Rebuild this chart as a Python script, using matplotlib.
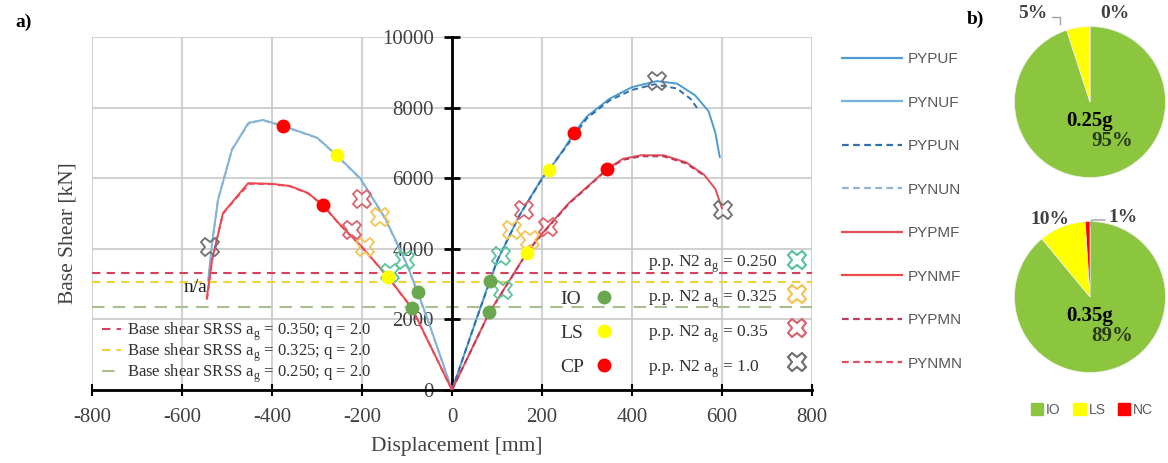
import numpy as np
import matplotlib
matplotlib.use('Agg')
import matplotlib.pyplot as plt
from matplotlib.lines import Line2D
from matplotlib.patches import Patch

plt.rcParams['axes.unicode_minus'] = False

# pushover curves (displacement in mm, base shear in kN)
pyp_uf_d = [0, 50, 84, 100, 150, 200, 216, 250, 271, 300, 350, 400, 455, 500, 540, 570, 585, 595]
pyp_uf_v = [0, 1850, 3100, 3650, 4950, 6000, 6230, 6850, 7280, 7750, 8250, 8580, 8750, 8680, 8350, 7900, 7300, 6600]
pyp_un_d = [0, 50, 100, 150, 200, 250, 300, 350, 400, 450, 500, 530, 548]
pyp_un_v = [0, 1850, 3650, 4950, 5980, 6830, 7700, 8200, 8500, 8660, 8540, 8250, 7930]
pyn_uf_d = [0, -50, -76, -100, -116, -150, -204, -256, -300, -375, -420, -453, -489, -520, -533, -542]
pyn_uf_v = [0, 1850, 2770, 3550, 4000, 4900, 6000, 6650, 7150, 7480, 7650, 7560, 6800, 5380, 4160, 3100]
pyn_un_d = [0, -50, -100, -150, -204, -256, -300, -375, -420, -450, -489, -520, -533, -540]
pyn_un_v = [0, 1840, 3540, 4880, 5980, 6640, 7140, 7470, 7640, 7580, 6820, 5400, 4200, 3300]
pyp_mf_d = [0, 83, 130, 169, 213, 260, 300, 322, 344, 380, 420, 470, 520, 560, 585, 600]
pyp_mf_v = [0, 2200, 3150, 3950, 4620, 5300, 5750, 6000, 6260, 6550, 6650, 6650, 6450, 6100, 5700, 5150]
pyp_mn_d = [0, 83, 130, 169, 213, 260, 300, 344, 380, 420, 470, 520, 560]
pyp_mn_v = [0, 2190, 3140, 3940, 4600, 5280, 5730, 6240, 6520, 6620, 6620, 6420, 6080]
pyn_mf_d = [0, -89, -142, -200, -250, -287, -320, -360, -400, -453, -480, -509, -533, -545]
pyn_mf_v = [0, 2320, 3200, 4050, 4700, 5240, 5580, 5780, 5840, 5860, 5450, 5010, 3700, 2600]
pyn_mn_d = [0, -89, -142, -200, -250, -287, -320, -360, -400, -450, -480, -509, -533, -545]
pyn_mn_v = [0, 2310, 3190, 4040, 4690, 5230, 5570, 5770, 5830, 5840, 5430, 4990, 3680, 2500]

# performance points
io_d = [84, 83, -76, -89]
io_v = [3100, 2200, 2770, 2320]
ls_d = [216, 166, -256, -142]
ls_v = [6230, 3880, 6650, 3200]
cp_d = [271, 344, -375, -287]
cp_v = [7280, 6260, 7480, 5240]

# N2 performance points
pp250_d = [-104, -138, 109, 113]
pp250_v = [3680, 3310, 3800, 2830]
pp325_d = [-160, -193, 133, 173]
pp325_v = [4900, 4050, 4530, 4250]
pp350_d = [-200, -222, 160, 213]
pp350_v = [5410, 4530, 5100, 4620]
pp100_d = [-538, 455, 602]
pp100_v = [4050, 8750, 5100]

# SRSS base shear levels
srss_labels = ['0.350', '0.325', '0.250']
srss_values = [3310, 3050, 2350]

# pie data
pie_labels = ['IO', 'LS', 'NC']
pie_025 = [95, 5, 0]
pie_035 = [89, 10, 1]

serif = 'Liberation Serif'
sans = 'Liberation Sans'
tcol = '#404040'

fig = plt.figure(figsize=(11.68, 4.63), dpi=100)
ax = fig.add_axes([92 / 1168, 1 - 390 / 463, 720 / 1168, 353 / 463])

ax.set_xlim(-800, 800)
ax.set_ylim(0, 10000)
ax.set_xticks(np.arange(-800, 801, 200))
ax.set_yticks(np.arange(0, 10001, 2000))
ax.grid(True, color='#c8c8c8', lw=1.2)
ax.set_axisbelow(True)
ax.spines['left'].set_position(('data', 0))
ax.spines['left'].set_linewidth(2)
ax.spines['bottom'].set_linewidth(2)
ax.spines['top'].set_visible(False)
ax.spines['right'].set_visible(False)
ax.tick_params(axis='y', direction='inout', length=12, width=2, pad=7)
ax.tick_params(axis='x', direction='inout', length=8, width=1.5, pad=9)
for lab in ax.get_xticklabels() + ax.get_yticklabels():
    lab.set_fontfamily(serif)
    lab.set_fontsize(15)
    lab.set_color(tcol)

ax.set_xlabel('Displacement [mm]', fontfamily=serif, fontsize=15.5, color=tcol, va='top')
ax.xaxis.set_label_coords(0.507, -0.132)
ax.set_ylabel('Base Shear [kN]', fontfamily=serif, fontsize=15.5, color=tcol, va='center')
ax.yaxis.set_label_coords(-0.033, 0.445)

# horizontal SRSS lines
srss_colors = ['#d6405c', '#f2d23c', '#a8bf90']
srss_dash = [(0, (4, 3)), (0, (4, 3)), (0, (6, 4))]
srss_handles = []
for lbl, val, c, ls in zip(srss_labels, srss_values, srss_colors, srss_dash):
    ax.axhline(val, color=c, ls=ls, lw=1.5, zorder=2)
    srss_handles.append(Line2D([], [], color=c, ls=ls, lw=1.5,
                               label=r'Base shear SRSS a$_\mathregular{g}$ = ' + lbl + '; q = 2.0'))

# curves
curve_specs = [
    ('PYPUF', pyp_uf_d, pyp_uf_v, '#4d9bd1', '-'),
    ('PYNUF', pyn_uf_d, pyn_uf_v, '#74b3e0', '-'),
    ('PYPUN', pyp_un_d, pyp_un_v, '#2f6fad', (0, (3, 2))),
    ('PYNUN', pyn_un_d, pyn_un_v, '#8fb3cf', (0, (3, 2))),
    ('PYPMF', pyp_mf_d, pyp_mf_v, '#e0505a', '-'),
    ('PYNMF', pyn_mf_d, pyn_mf_v, '#f04848', '-'),
    ('PYPMN', pyp_mn_d, pyp_mn_v, '#c03a5a', (0, (3, 2))),
    ('PYNMN', pyn_mn_d, pyn_mn_v, '#e84a62', (0, (3, 2))),
]
curve_handles = []
for name, d, v, c, ls in curve_specs:
    ax.plot(d, v, color=c, ls=ls, lw=1.4, zorder=3)
    curve_handles.append(Line2D([], [], color=c, ls=ls, lw=1.6, label=name))

# N2 crosses
pp_specs = [
    ('0.250', pp250_d, pp250_v, '#5cc49a'),
    ('0.325', pp325_d, pp325_v, '#f5c453'),
    ('0.35', pp350_d, pp350_v, '#d9646e'),
    ('1.0', pp100_d, pp100_v, '#707070'),
]
pp_handles = []
for lbl, d, v, c in pp_specs:
    ax.plot(d, v, ls='none', marker='X', ms=13, mfc='none', mec=c, mew=1.3, zorder=4)
    pp_handles.append(Line2D([], [], ls='none', marker='X', ms=13, mfc='none', mec=c, mew=1.3,
                             label=r'p.p. N2 a$_\mathregular{g}$ = ' + lbl))

# limit state points
ps_handles = []
for lbl, d, v, c in [('IO', io_d, io_v, '#6aa84f'), ('LS', ls_d, ls_v, '#ffff00'), ('CP', cp_d, cp_v, '#ff0000')]:
    ax.plot(d, v, ls='none', marker='o', ms=9, color=c, zorder=5)
    ps_handles.append(Line2D([], [], ls='none', marker='o', ms=9, color=c, label=lbl))

ax.text(-570, 2900, 'n/a', fontfamily=serif, fontsize=14, color='#202020', ha='center', va='center')

leg1 = ax.legend(handles=srss_handles, loc='upper left', bbox_to_anchor=(0.005, 0.215), frameon=False,
                 prop={'family': serif, 'size': 12}, handlelength=1.1, handletextpad=0.4,
                 labelspacing=-0.08, borderaxespad=0)
for t in leg1.get_texts():
    t.set_color('#303030')
ax.add_artist(leg1)


def text_then_marker(handles, x_text, x_mark, y, size, spacing, stub):
    # label column (left aligned) and marker column drawn as two aligned legends
    blank = [Line2D([], [], ls='none', marker='none') for _ in handles]
    labels = [h.get_label() for h in handles]
    lt = ax.legend(blank, labels, loc='upper left', bbox_to_anchor=(x_text, y), frameon=False,
                   prop={'family': serif, 'size': size}, handlelength=0, handletextpad=0,
                   labelspacing=spacing, borderaxespad=0)
    for t in lt.get_texts():
        t.set_color('#303030')
    ax.add_artist(lt)
    lm = ax.legend(handles, [stub] * len(handles), loc='upper left', bbox_to_anchor=(x_mark, y),
                   frameon=False, prop={'family': serif, 'size': size}, handlelength=1.0,
                   handletextpad=0, labelspacing=spacing, borderaxespad=0)
    for t in lm.get_texts():
        t.set_visible(False)
    ax.add_artist(lm)


text_then_marker(ps_handles, 0.64, 0.687, 0.305, 14, 0.85, 'I')
text_then_marker(pp_handles, 0.762, 0.957, 0.405, 12.5, 0.8, r'a$_\mathregular{g}$')

fig.legend(handles=curve_handles, loc='upper left', bbox_to_anchor=(836 / 1168, 1 - 46 / 463),
           frameon=False, prop={'family': sans, 'size': 11}, handlelength=3.9,
           handletextpad=0.4, labelspacing=1.93, borderaxespad=0, labelcolor='#595959')

fig.text(15 / 1168, 1 - 22 / 463, 'a)', fontfamily=serif, fontsize=14, fontweight='bold', va='center')
fig.text(967 / 1168, 1 - 19 / 463, 'b)', fontfamily=serif, fontsize=14, fontweight='bold', va='center')

# pies
pie_colors = ['#8cc63f', '#ffff00', '#ff0000']
for vals, tag, cy in [(pie_025, '0.25g', 102), (pie_035, '0.35g', 297)]:
    pax = fig.add_axes([1013 / 1168, 1 - (cy + 77) / 463, 154 / 1168, 154 / 463])
    pax.pie(vals, colors=pie_colors, startangle=90, counterclock=False,
            wedgeprops={'linewidth': 0.5, 'edgecolor': '#f0f0f0'})
    pax.set_xlim(-1.02, 1.02)
    pax.set_ylim(-1.02, 1.02)
    pax.set_aspect('equal')
    pax.text(0.0, -0.25, tag, fontfamily=serif, fontsize=15, fontweight='bold', ha='center', va='center')
    pax.text(0.3, -0.52, f'{vals[0]}%', fontfamily=serif, fontsize=15, fontweight='bold',
             ha='center', va='center', color='#2b3a1f')

fig.text(1033 / 1168, 1 - 13 / 463, f'{pie_025[1]}%', fontfamily=serif, fontsize=14, fontweight='bold',
         color=tcol, ha='center', va='center')
fig.text(1115 / 1168, 1 - 13 / 463, f'{pie_025[2]}%', fontfamily=serif, fontsize=14, fontweight='bold',
         color=tcol, ha='center', va='center')
fig.add_artist(Line2D([1052 / 1168, 1060 / 1168, 1060 / 1168],
                      [1 - 17 / 463, 1 - 17 / 463, 1 - 24 / 463], color='#a0a0a0', lw=1))
fig.text(1050 / 1168, 1 - 219 / 463, f'{pie_035[1]}%', fontfamily=serif, fontsize=14, fontweight='bold',
         color=tcol, ha='center', va='center')
fig.text(1123 / 1168, 1 - 217 / 463, f'{pie_035[2]}%', fontfamily=serif, fontsize=14, fontweight='bold',
         color=tcol, ha='center', va='center')
fig.add_artist(Line2D([1105 / 1168, 1092 / 1168, 1090 / 1168],
                      [1 - 220 / 463, 1 - 220 / 463, 1 - 226 / 463], color='#a0a0a0', lw=1))

fig.legend(handles=[Patch(color=c, label=l) for c, l in zip(pie_colors, pie_labels)],
           loc='center', bbox_to_anchor=(1092 / 1168, 1 - 410 / 463), ncol=3, frameon=False,
           prop={'family': sans, 'size': 10}, handlelength=0.9, handleheight=0.9,
           handletextpad=0.2, columnspacing=0.9, labelcolor='#595959')

fig.savefig('out.png', dpi=100)
